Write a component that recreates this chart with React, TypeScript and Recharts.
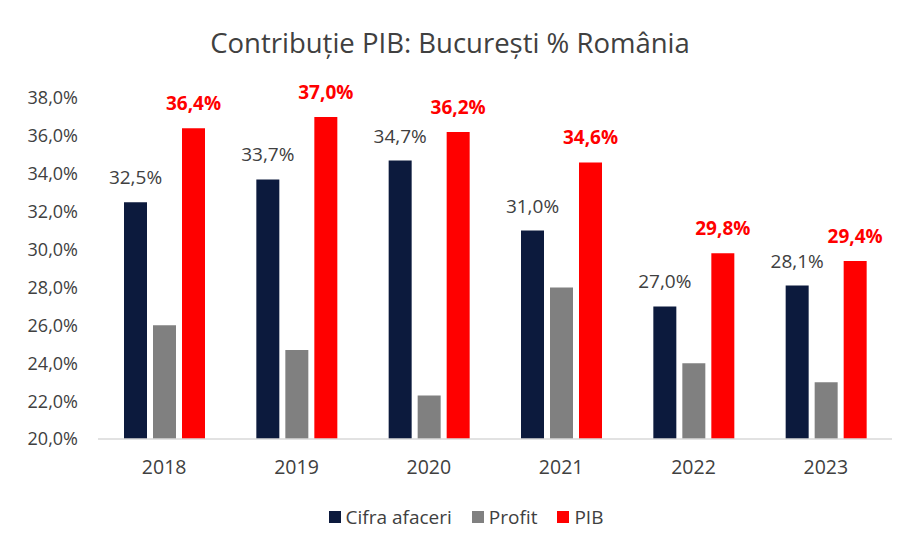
import React from 'react';
import { BarChart, Bar, XAxis, YAxis, LabelList } from 'recharts';

const years = ['2018', '2019', '2020', '2021', '2022', '2023'];
const cifraAfaceri = [32.5, 33.7, 34.7, 31.0, 27.0, 28.1];
const profit = [26.0, 24.7, 22.3, 28.0, 24.0, 23.0];
const pib = [36.4, 37.0, 36.2, 34.6, 29.8, 29.4];
const yTicks = [20, 22, 24, 26, 28, 30, 32, 34, 36, 38];

const data = years.map((year, i) => ({
  year,
  cifra: cifraAfaceri[i],
  profit: profit[i],
  pib: pib[i],
}));

const NAVY = '#0c1a3d';
const GRAY = '#808080';
const RED = '#ff0000';
const TEXT = '#404040';
const FONT = '"Open Sans", sans-serif';

const pct = (v: number) => `${v.toFixed(1).replace('.', ',')}%`;

const legendItems = [
  { label: 'Cifra afaceri', color: NAVY },
  { label: 'Profit', color: GRAY },
  { label: 'PIB', color: RED },
];

export default function App() {
  return (
    <div style={{ position: 'absolute', top: 0, left: 0, width: 900, height: 552, background: '#fff', fontFamily: FONT }}>
      {/* titlu */}
      <div
        style={{
          position: 'absolute',
          top: 24,
          left: 0,
          width: 900,
          textAlign: 'center',
          fontSize: 27.5,
          color: TEXT,
          lineHeight: '38px',
        }}
      >
        Contribuție PIB: București % România
      </div>

      <BarChart
        width={900}
        height={552}
        data={data}
        margin={{ top: 98, right: 8, left: 0, bottom: 0 }}
        barGap={6}
        barSize={23}
      >
        <XAxis
          dataKey="year"
          height={113}
          axisLine={{ stroke: '#d9d9d9', strokeWidth: 1.5 }}
          tickLine={false}
          tickSize={0}
          tickMargin={21}
          tick={{ fill: TEXT, fontSize: 19.5, fontFamily: FONT }}
        />
        <YAxis
          width={98}
          domain={[20, 38]}
          ticks={yTicks}
          axisLine={false}
          tickLine={false}
          tickSize={0}
          tickMargin={20}
          tickFormatter={pct}
          tick={{ fill: TEXT, fontSize: 18, fontFamily: FONT }}
        />
        <Bar dataKey="cifra" fill={NAVY} isAnimationActive={false}>
          <LabelList
            dataKey="cifra"
            position="top"
            offset={18}
            formatter={(v: number) => pct(v)}
            style={{ fill: TEXT, fontSize: 19, fontFamily: FONT }}
          />
        </Bar>
        <Bar dataKey="profit" fill={GRAY} isAnimationActive={false} />
        <Bar dataKey="pib" fill={RED} isAnimationActive={false}>
          <LabelList
            dataKey="pib"
            position="top"
            offset={18}
            formatter={(v: number) => pct(v)}
            style={{ fill: RED, fontSize: 19, fontWeight: 700, fontFamily: FONT }}
          />
        </Bar>
      </BarChart>

      {/* legenda */}
      <div
        style={{
          position: 'absolute',
          top: 504,
          left: 16,
          width: 900,
          display: 'flex',
          justifyContent: 'center',
          alignItems: 'center',
          gap: 20,
          fontSize: 19,
          color: TEXT,
        }}
      >
        {legendItems.map((item) => (
          <div key={item.label} style={{ display: 'flex', alignItems: 'center' }}>
            <span style={{ width: 12, height: 12, background: item.color, marginRight: 5, display: 'inline-block' }} />
            <span>{item.label}</span>
          </div>
        ))}
      </div>
    </div>
  );
}
